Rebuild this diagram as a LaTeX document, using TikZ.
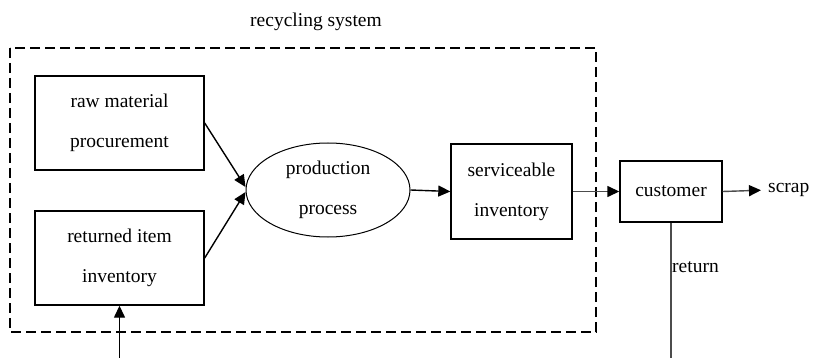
\documentclass[tikz,border=0pt]{standalone}
\usepackage{fontspec}
\setmainfont{Liberation Serif}
\usetikzlibrary{arrows.meta,shapes.geometric}
\begin{document}
\begin{tikzpicture}[x=1pt,y=-1pt,
  txt/.style={font=\fontsize{19.5}{40}\selectfont, align=center, inner sep=0pt},
  boxnode/.style={txt, draw, line width=1.4pt},
  conn/.style={line width=1.4pt, -{Triangle[length=12pt,width=11pt,color=black,fill=black]}},
  lightconn/.style={conn, draw=black!70},
]
\useasboundingbox (0,0) rectangle (813,358);
\fill[white] (0,0) rectangle (813,358);
\node[txt] (title) at (316,22) {recycling system};
\draw[line width=1.3pt, dash pattern=on 10pt off 5pt] (10,48) rectangle (596,332);
\node[boxnode, minimum width=169pt, minimum height=94pt] (raw) at (119.5,123) {raw material\\procurement};
\node[boxnode, minimum width=169pt, minimum height=94pt] (ret) at (119.5,258) {returned item\\inventory};
\node[txt, draw, ellipse, line width=1pt, minimum width=164pt, minimum height=94pt] (prod) at (328,190) {production\\process};
\node[boxnode, minimum width=121pt, minimum height=95pt] (serv) at (511.5,191.5) {serviceable\\inventory};
\node[boxnode, minimum width=102pt, minimum height=61pt] (cust) at (671,191.5) {customer};
\node[txt, anchor=west] (scrap) at (768,190) {scrap};
\node[txt, anchor=west] (retlbl) at (672,267) {return};
\coordinate (botin) at (119.5,358);
\coordinate (botout) at (671,358);
\draw[conn] (raw.east) -- ([yshift=3pt]prod.west);
\draw[conn] (ret.east) -- ([yshift=-2pt]prod.west);
\draw[conn] (prod.east) -- (serv.west);
\draw[lightconn] (serv.east) -- (cust.west);
\draw[lightconn, shorten >=7pt] (cust.east) -- (scrap.west);
\draw[line width=1.4pt, draw=black!70] (cust.south) -- (botout);
\draw[conn] (botin) -- (ret.south);
\end{tikzpicture}
\end{document}
